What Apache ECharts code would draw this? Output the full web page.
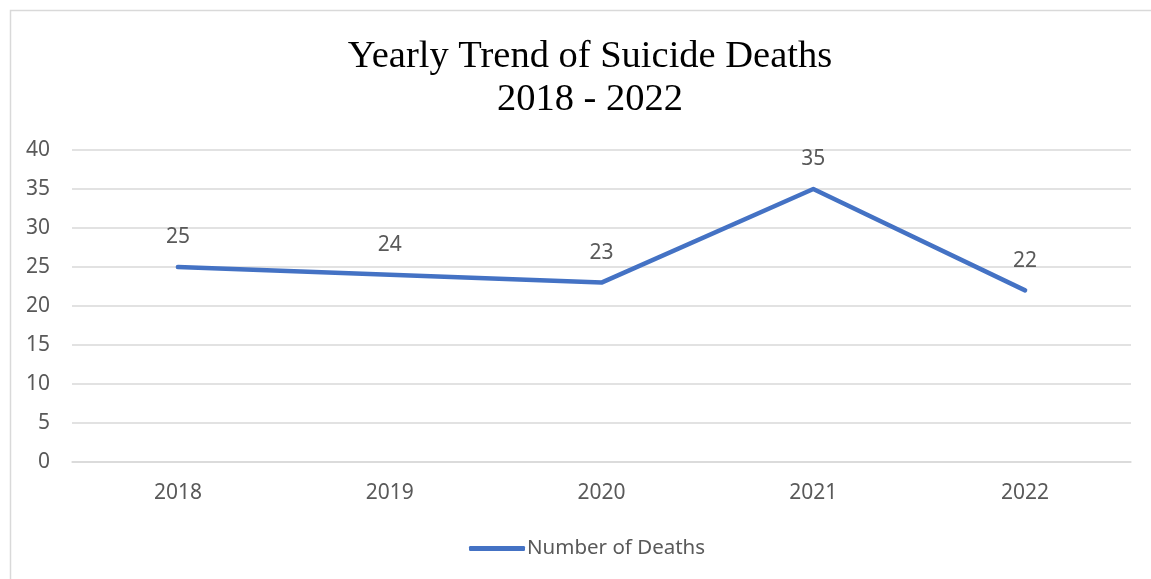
<!DOCTYPE html>
<html>
<head>
<meta charset="utf-8">
<script src="https://cdn.jsdelivr.net/npm/echarts@6/dist/echarts.min.js"></script>
<style>
  html, body { margin: 0; padding: 0; background: #fff; }
  #chart { width: 1151px; height: 579px; }
</style>
</head>
<body>
<div id="chart"></div>
<script>
// Yearly suicide deaths, 2018-2022
const years = ['2018', '2019', '2020', '2021', '2022'];
const deaths = [25, 24, 23, 35, 22];
const yTicks = { min: 0, max: 40, interval: 5 };

const chart = echarts.init(document.getElementById('chart'), null, { renderer: 'canvas' });
const grayText = '#595959';
const gridGray = '#d9d9d9';
const lineBlue = '#4472C4';

chart.setOption({
  animation: false,
  backgroundColor: '#ffffff',
  graphic: [{
    type: 'rect',
    left: 8, top: 8,
    shape: { width: 1300, height: 700 },
    style: { fill: 'none', stroke: gridGray, lineWidth: 1.5 },
    silent: true, z: -10
  }],
  title: {
    text: 'Yearly Trend of Suicide Deaths\n2018 - 2022',
    left: 585,
    textAlign: 'center',
    top: 30,
    textStyle: {
      fontFamily: 'Liberation Serif',
      fontWeight: 'normal',
      fontSize: 38.5,
      lineHeight: 43,
      color: '#000000'
    }
  },
  grid: { left: 72, right: 20, top: 150, bottom: 117, containLabel: false },
  legend: {
    left: 464,
    top: 533,
    itemWidth: 56,
    itemHeight: 5,
    itemGap: 10,
    icon: 'roundRect',
    itemStyle: { color: lineBlue },
    textStyle: { color: grayText, fontFamily: 'Noto Sans', fontSize: 20.5, padding: [0, 0, 0, -3] },
    data: ['Number of Deaths']
  },
  xAxis: {
    type: 'category',
    data: years,
    boundaryGap: true,
    axisLine: { show: true, lineStyle: { color: gridGray, width: 1.5 } },
    axisTick: { show: false },
    axisLabel: { color: grayText, fontFamily: 'Noto Sans', fontSize: 21, margin: 21 }
  },
  yAxis: {
    type: 'value',
    min: yTicks.min, max: yTicks.max, interval: yTicks.interval,
    axisLine: { show: false },
    axisTick: { show: false },
    splitLine: { lineStyle: { color: gridGray, width: 1.5 } },
    axisLabel: { color: grayText, fontFamily: 'Noto Sans', fontSize: 21, margin: 22 }
  },
  series: [{
    name: 'Number of Deaths',
    type: 'line',
    data: deaths,
    symbol: 'circle',
    symbolSize: 0.01,
    showSymbol: true,
    lineStyle: { color: lineBlue, width: 4.5, cap: 'round', join: 'round' },
    itemStyle: { color: lineBlue },
    label: {
      show: true,
      position: 'top',
      distance: 19,
      color: grayText,
      fontFamily: 'Noto Sans',
      fontSize: 21
    }
  }]
});
</script>
</body>
</html>
